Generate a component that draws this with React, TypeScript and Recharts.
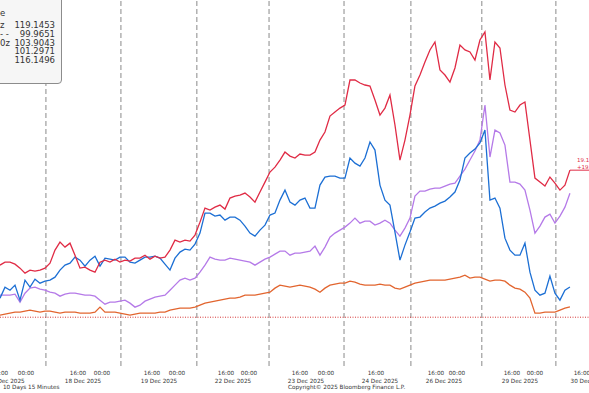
import { LineChart, Line, XAxis, YAxis, ReferenceLine } from "recharts";

// 10 days of 15 minute bars, every ~1.6 session hours
const STEP = 1.6;

const red = [
  106.76, 107.15, 107.15, 106.89, 106.37, 105.71, 106.11, 105.98, 106.11, 106.37,
  107.02, 108.72, 109.76, 109.11, 109.63, 108.06, 106.37, 106.5, 106.11, 105.84,
  107.15, 107.41, 107.15, 107.54, 107.15, 107.41, 107.28, 107.67, 107.67, 108.06,
  107.54, 107.93, 107.67, 107.8, 108.72, 110.02, 109.76, 110.02, 109.89, 110.68,
  112.37, 114.2, 113.94, 114.33, 114.59, 114.07, 115.51, 115.77, 115.9, 116.16,
  115.64, 114.98, 116.29, 117.59, 118.9, 119.55, 120.47, 121.51, 120.99, 120.73,
  121.25, 121.12, 121.12, 121.51, 123.08, 124.12, 126.21, 126.73, 127.25, 127.65,
  130.91, 130.91, 130.52, 130.26, 130.13, 128.3, 126.34, 127.25, 128.95, 125.04,
  120.47, 123.08, 126.34, 130.13, 131.56, 133.26, 134.83, 135.87, 132.22, 131.56,
  130.65, 132.48, 135.48, 134.83, 134.57, 133.52, 136.13, 137.18, 130.91, 135.87,
  135.09, 130.26, 126.99, 126.73, 127.65, 128.04, 123.08, 118.12, 117.59, 117.07,
  118.25, 117.46, 116.55, 117.2, 119.15,
];

const blue = [
  102.45, 103.89, 103.49, 104.15, 102.19, 104.8, 103.89, 104.93, 104.41, 104.67,
  104.8, 105.19, 106.11, 106.76, 107.02, 107.8, 107.41, 106.63, 107.41, 107.93,
  106.63, 107.67, 107.54, 107.41, 107.8, 107.8, 107.15, 107.02, 107.41, 107.8,
  107.8, 107.93, 107.67, 106.89, 106.11, 107.67, 108.46, 108.85, 108.72, 109.5,
  110.94, 113.55, 113.55, 113.16, 113.29, 112.63, 113.03, 113.03, 112.63, 111.85,
  110.94, 110.54, 111.33, 111.98, 113.29, 113.55, 115.24, 116.55, 114.98, 114.59,
  115.24, 115.51, 114.2, 114.2, 117.2, 118.25, 118.38, 118.38, 118.12, 118.12,
  120.73, 120.07, 119.68, 120.73, 122.82, 121.77, 117.2, 115.24, 114.59, 111.07,
  107.41, 109.37, 111.07, 112.89, 113.03, 113.68, 114.2, 114.46, 114.85, 115.11,
  115.64, 116.29, 117.86, 120.73, 121.38, 121.9, 122.69, 124.38, 115.24, 115.51,
  114.2, 110.28, 108.72, 108.06, 108.06, 109.63, 105.84, 103.49, 102.84, 103.1,
  105.32, 103.1, 102.19, 103.49, 103.9,
];

const purple = [
  102.84, 102.84, 102.84, 102.97, 101.93, 103.1, 103.76, 103.89, 103.63, 103.49,
  103.23, 103.1, 102.71, 102.97, 103.1, 103.1, 102.97, 102.84, 102.84, 102.71,
  102.19, 101.67, 101.93, 101.93, 102.06, 102.19, 101.8, 101.28, 101.54, 102.06,
  102.32, 102.58, 102.71, 102.84, 103.49, 104.15, 104.8, 105.06, 104.8, 105.06,
  105.84, 106.76, 107.8, 107.54, 107.41, 107.41, 107.67, 107.54, 107.41, 107.28,
  107.15, 106.76, 107.15, 107.54, 107.8, 108.19, 108.59, 108.59, 108.06, 108.33,
  108.33, 108.46, 108.59, 109.24, 108.06, 109.11, 110.41, 110.94, 111.33, 111.72,
  112.24, 112.89, 112.24, 112.5, 112.5, 111.98, 112.24, 112.63, 112.24, 111.33,
  110.54, 111.59, 112.89, 115.77, 116.42, 116.42, 116.68, 116.81, 116.81, 117.07,
  117.33, 117.46, 118.38, 119.29, 120.47, 121.64, 123.08, 127.65, 120.86, 124.38,
  123.99, 122.42, 117.59, 117.59, 117.33, 116.55, 113.94, 110.94, 111.85, 113.03,
  113.42, 112.24, 113.16, 114.33, 116.15,
];

const orange = [
  100.23, 100.36, 100.49, 100.62, 100.62, 100.75, 100.88, 100.75, 100.62, 100.75,
  100.75, 100.62, 100.49, 100.62, 100.62, 100.62, 100.49, 100.49, 100.49, 100.62,
  101.28, 100.62, 100.62, 100.62, 100.49, 100.36, 100.23, 100.36, 100.49, 100.49,
  100.49, 100.49, 100.62, 100.62, 100.88, 101.01, 101.14, 101.14, 101.14, 101.28,
  101.54, 101.8, 101.93, 102.06, 102.19, 102.32, 102.45, 102.45, 102.58, 102.84,
  102.84, 102.84, 102.97, 103.1, 103.23, 103.76, 104.15, 104.02, 103.89, 104.02,
  104.15, 104.02, 103.89, 103.63, 103.23, 103.76, 104.15, 104.28, 104.41, 104.41,
  104.67, 104.54, 104.28, 104.15, 104.15, 104.15, 104.28, 104.15, 104.15, 103.76,
  103.63, 103.89, 104.15, 104.41, 104.54, 104.67, 104.8, 104.8, 104.8, 104.8,
  104.93, 105.06, 105.19, 105.45, 105.06, 105.19, 105.19, 104.93, 104.67, 104.8,
  104.8, 104.67, 104.15, 103.76, 103.63, 103.23, 102.45, 100.49, 100.49, 100.62,
  100.62, 100.62, 100.88, 101.14, 101.3,
];

const baseline = 99.9651;

// session-hour positions of the day separators
const dayBreaks = [14.7, 38.7, 63.0, 86.1, 110.1, 131.5, 154.2, 177.9];

const timeTicks = [
  { t: 0, label: "16:00" }, { t: 8.32, label: "00:00" },
  { t: 24.96, label: "16:00" }, { t: 32.64, label: "00:00" },
  { t: 48.64, label: "16:00" }, { t: 56.64, label: "00:00" },
  { t: 72.32, label: "16:00" }, { t: 79.68, label: "00:00" },
  { t: 96.0, label: "16:00" }, { t: 104.32, label: "00:00" },
  { t: 120.32, label: "16:00" },
  { t: 139.52, label: "16:00" }, { t: 146.24, label: "00:00" },
  { t: 163.84, label: "16:00" }, { t: 171.2, label: "00:00" },
  { t: 186.24, label: "16:00" },
];

const dateTicks = [
  { t: 2.1, label: "17 Dec 2025" },
  { t: 26.56, label: "18 Dec 2025" },
  { t: 50.88, label: "19 Dec 2025" },
  { t: 74.56, label: "22 Dec 2025" },
  { t: 97.92, label: "23 Dec 2025" },
  { t: 121.6, label: "24 Dec 2025" },
  { t: 142.08, label: "26 Dec 2025" },
  { t: 166.4, label: "29 Dec 2025" },
  { t: 188.4, label: "30 Dec 2025" },
];

const legendRows = [
  { name: "z", value: "119.1453" },
  { name: "- -", value: "99.9651" },
  { name: "0z", value: "103.9043" },
  { name: "", value: "101.2971" },
  { name: "", value: "116.1496" },
];

const data = red.map((v, i) => ({
  t: +(i * STEP).toFixed(2),
  red: v,
  blue: blue[i],
  purple: purple[i],
  orange: orange[i],
}));

const font = "'DejaVu Sans', Verdana, sans-serif";

const AxisTick = (props: any) => {
  const { x, y, payload } = props;
  const time = timeTicks.find((d) => Math.abs(d.t - payload.value) < 0.001);
  const date = dateTicks.find((d) => Math.abs(d.t - payload.value) < 0.001);
  const label = time ? time.label : date ? date.label : "";
  return (
    <text x={x} y={y + (time ? 7 : 15)} textAnchor="middle" fontSize={5.7} fill="#333" fontFamily={font}>
      {label}
    </text>
  );
};

export default function App() {
  const lastT = data[data.length - 1].t;
  return (
    <div style={{ position: "absolute", left: 0, top: 0, width: 589, height: 393, overflow: "hidden", background: "#fff", fontFamily: font }}>
      <LineChart width={589} height={393} data={data} margin={{ top: 0, right: 0, left: 0, bottom: 0 }}>
        <XAxis
          dataKey="t"
          type="number"
          domain={[0, 188.5]}
          allowDataOverflow
          ticks={[...timeTicks.map((d) => d.t), ...dateTicks.map((d) => d.t)]}
          interval={0}
          tick={<AxisTick />}
          tickLine={false}
          tickSize={0}
          axisLine={false}
          height={27}
        />
        <YAxis hide domain={[93.6, 141.35]} allowDataOverflow />
        {dayBreaks.map((t) => (
          <ReferenceLine key={t} x={t} stroke="#8a8a8a" strokeDasharray="5 3" strokeWidth={1} />
        ))}
        <ReferenceLine y={baseline} stroke="#d63838" strokeDasharray="1 1.5" strokeWidth={1} />
        <Line type="linear" dataKey="orange" stroke="#e2652f" strokeWidth={1.3} dot={false} isAnimationActive={false} />
        <Line type="linear" dataKey="purple" stroke="#b57ae8" strokeWidth={1.3} dot={false} isAnimationActive={false} />
        <Line type="linear" dataKey="blue" stroke="#1c6fd4" strokeWidth={1.3} dot={false} isAnimationActive={false} />
        <Line type="linear" dataKey="red" stroke="#e02b45" strokeWidth={1.3} dot={false} isAnimationActive={false} />
        <ReferenceLine
          segment={[{ x: lastT, y: red[red.length - 1] }, { x: 188.5, y: red[red.length - 1] }]}
          stroke="#e02b45"
          strokeWidth={1}
        />
      </LineChart>

      {/* legend box, cut by the left/top edge */}
      <div style={{ position: "absolute", left: -6, top: -6, width: 66, height: 88, border: "1px solid #8c8c8c", borderRadius: 4, background: "#f6f6f6" }} />
      <div style={{ position: "absolute", left: 0, top: 8.6, fontSize: 8.5, lineHeight: "9px", color: "#333" }}>e</div>
      {legendRows.map((r, i) => (
        <div key={i} style={{ position: "absolute", left: 0, top: 21.3 + i * 8.7, width: 55, fontSize: 8.5, lineHeight: "9px", color: "#333", whiteSpace: "nowrap" }}>
          <span>{r.name}</span>
          <span style={{ position: "absolute", right: 0 }}>{r.value}</span>
        </div>
      ))}

      {/* last value tag */}
      <div style={{ position: "absolute", left: 577, top: 157, fontSize: 5.5, lineHeight: "7px", color: "#e02b45", whiteSpace: "nowrap" }}>
        19.1<br />+19.
      </div>

      <div style={{ position: "absolute", left: 3, top: 384, fontSize: 5.7, lineHeight: "7px", color: "#333", whiteSpace: "nowrap" }}>10 Days 15 Minutes</div>
      <div style={{ position: "absolute", left: 288, top: 384, fontSize: 5.7, lineHeight: "7px", color: "#333", whiteSpace: "nowrap" }}>
        Copyright© 2025 Bloomberg Finance L.P.
      </div>
    </div>
  );
}
